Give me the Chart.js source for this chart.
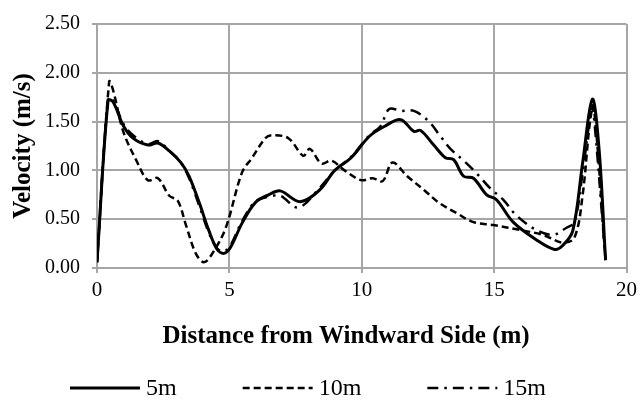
<!DOCTYPE html>
<html>
  <head>
    <title>Velocity profile</title>
    <meta name="viewport" content="width=device-width, initial-scale=1.0">
    <style>
      body {
        margin: 0;
        background: #fff;
      }

      #wrap {
        width: 642px;
        height: 400px;
      }
    </style>
  </head>
  <body>
    <div id="wrap">
      <canvas id="chart"></canvas>
    </div>
    <script src="https://cdn.jsdelivr.net/npm/chart.js@4.4.1/dist/chart.umd.min.js"></script>
    <script>
      // distance (m) and velocity (m/s), one pair of arrays per height
      const dist5 = [0.00, 0.42, 0.61, 0.99, 1.36, 1.92, 2.30, 2.73, 3.17, 3.48, 3.86, 4.23, 4.54, 4.79, 5.04, 5.48, 5.98, 6.48, 6.92, 7.67, 8.41, 8.98, 9.60, 10.29, 10.85, 11.47, 11.97, 12.22, 12.72, 13.16, 13.47, 13.85, 14.22, 14.72, 15.09, 15.72, 16.59, 17.28, 17.59, 17.97, 18.34, 18.71, 18.96, 19.21];
      const vel5 = [0.06, 1.72, 1.70, 1.46, 1.33, 1.26, 1.28, 1.20, 1.08, 0.94, 0.67, 0.38, 0.19, 0.15, 0.21, 0.46, 0.67, 0.75, 0.79, 0.68, 0.80, 1.00, 1.13, 1.35, 1.45, 1.52, 1.40, 1.41, 1.26, 1.13, 1.11, 0.94, 0.92, 0.75, 0.70, 0.47, 0.29, 0.19, 0.23, 0.38, 1.07, 1.73, 1.23, 0.08];

      const dist10 = [0.00, 0.46, 0.61, 0.99, 1.49, 1.92, 2.30, 2.73, 3.05, 3.36, 3.73, 4.04, 4.36, 4.86, 5.48, 5.86, 6.36, 6.60, 7.23, 7.79, 8.04, 8.48, 8.85, 9.35, 9.97, 10.41, 10.79, 11.16, 11.72, 12.35, 12.91, 13.60, 14.22, 14.97, 15.97, 16.84, 17.59, 18.03, 18.34, 18.62, 18.76, 19.21];
      const vel10 = [0.06, 1.91, 1.82, 1.40, 1.10, 0.90, 0.92, 0.74, 0.69, 0.44, 0.15, 0.06, 0.15, 0.41, 0.98, 1.13, 1.33, 1.36, 1.33, 1.15, 1.22, 1.07, 1.10, 1.00, 0.90, 0.92, 0.89, 1.08, 0.94, 0.80, 0.67, 0.56, 0.47, 0.44, 0.39, 0.34, 0.26, 0.31, 0.74, 1.50, 1.66, 0.08];

      const dist15 = [0.00, 0.42, 0.61, 0.99, 1.36, 1.92, 2.30, 2.73, 3.17, 3.48, 3.86, 4.23, 4.54, 4.79, 5.04, 5.48, 5.98, 6.48, 6.92, 7.60, 8.41, 8.98, 9.60, 10.29, 10.70, 11.04, 11.47, 11.97, 12.54, 12.97, 13.35, 13.85, 14.34, 14.84, 15.34, 15.84, 16.59, 17.22, 17.72, 18.03, 18.34, 18.65, 18.73, 19.21];
      const vel15 = [0.06, 1.74, 1.72, 1.48, 1.36, 1.27, 1.30, 1.20, 1.08, 0.92, 0.64, 0.36, 0.20, 0.17, 0.23, 0.48, 0.68, 0.73, 0.74, 0.62, 0.82, 1.00, 1.14, 1.36, 1.45, 1.63, 1.61, 1.61, 1.50, 1.35, 1.22, 1.10, 0.97, 0.82, 0.70, 0.54, 0.39, 0.34, 0.41, 0.47, 0.97, 1.60, 1.66, 0.08];

      const seriesNames = ['5m', '10m', '15m'];
      const xTicks = [0, 5, 10, 15, 20];
      const yTicks = [0, 0.5, 1, 1.5, 2, 2.5];

      const gridGrey = '#a6a6a6';
      const serif = "'Liberation Serif', 'Times New Roman', serif";

      const pairs = (xs, ys) => xs.map((x, i) => ({x: x, y: ys[i]}));

      // legend drawn by hand so the line samples can be long, like the original
      const lineLegend = {
        id: 'lineLegend',
        afterDraw(chart) {
          const ctx = chart.ctx;
          const sampleLen = 70, textGap = 6, itemGap = 66, centerX = 308, y = 388;
          ctx.save();
          ctx.font = '24px ' + serif;
          ctx.textBaseline = 'middle';
          ctx.fillStyle = '#000';
          const widths = chart.data.datasets.map(ds => sampleLen + textGap + ctx.measureText(ds.label).width);
          const total = widths.reduce((a, b) => a + b, 0) + itemGap * (widths.length - 1);
          let x = centerX - total / 2;
          chart.data.datasets.forEach((ds, i) => {
            ctx.beginPath();
            ctx.strokeStyle = ds.borderColor;
            ctx.lineWidth = ds.borderWidth;
            ctx.lineCap = 'butt';
            ctx.setLineDash(ds.borderDash || []);
            ctx.moveTo(x, y);
            ctx.lineTo(x + sampleLen, y);
            ctx.stroke();
            ctx.setLineDash([]);
            ctx.fillText(ds.label, x + sampleLen + textGap, y + 1);
            x += widths[i] + itemGap;
          });
          ctx.restore();
        }
      };

      const ctx = document.getElementById('chart').getContext('2d');
      let chart = new Chart(ctx, {
        type: 'line',
        data: {
          datasets: [{
            label: seriesNames[0],
            data: pairs(dist5, vel5),
            borderColor: '#000',
            borderWidth: 3,
            order: 0
          },
          {
            label: seriesNames[1],
            data: pairs(dist10, vel10),
            borderColor: '#000',
            borderWidth: 2.5,
            borderDash: [7, 4],
            order: 1
          },
          {
            label: seriesNames[2],
            data: pairs(dist15, vel15),
            borderColor: '#000',
            borderWidth: 2.5,
            borderDash: [11, 6, 2.5, 6],
            order: 2
          }]
        },
        options: {
          responsive: true,
          maintainAspectRatio: false,
          animation: false,
          elements: {
            point: { radius: 0, hoverRadius: 0 },
            line: { tension: 0.35, fill: false }
          },
          layout: {
            padding: { top: 15, right: 11, bottom: 42, left: 0 }
          },
          plugins: {
            legend: { display: false },
            tooltip: { enabled: false }
          },
          scales: {
            x: {
              type: 'linear',
              min: 0,
              max: 20,
              afterBuildTicks: (scale) => { scale.ticks = xTicks.map(v => ({value: v})); },
              afterFit: (scale) => { scale.height = 90; },
              grid: { color: gridGrey, lineWidth: 2, tickLength: 5, tickColor: gridGrey },
              border: { color: gridGrey, width: 2 },
              ticks: {
                color: '#000',
                font: { family: serif, size: 21 },
                padding: 5,
                maxRotation: 0
              },
              title: {
                display: true,
                // trailing spaces nudge the centred title a little to the left, as in the original
                text: 'Distance from Windward Side (m)     ',
                color: '#000',
                font: { family: serif, size: 25, weight: 'bold' },
                padding: { top: 0, bottom: 6 }
              }
            },
            y: {
              min: 0,
              max: 2.5,
              afterBuildTicks: (scale) => { scale.ticks = yTicks.map(v => ({value: v})); },
              afterFit: (scale) => { scale.width = 97; },
              grid: { color: gridGrey, lineWidth: 2, tickLength: 5, tickColor: gridGrey },
              border: { color: gridGrey, width: 2 },
              ticks: {
                color: '#000',
                font: { family: serif, size: 20 },
                padding: 12,
                callback: (v) => Number(v).toFixed(2)
              },
              title: {
                display: true,
                text: 'Velocity (m/s)',
                color: '#000',
                font: { family: serif, size: 25, weight: 'bold' },
                padding: { top: 9, bottom: 0 }
              }
            }
          }
        },
        plugins: [lineLegend]
      });
    </script>
  </body>
</html>
